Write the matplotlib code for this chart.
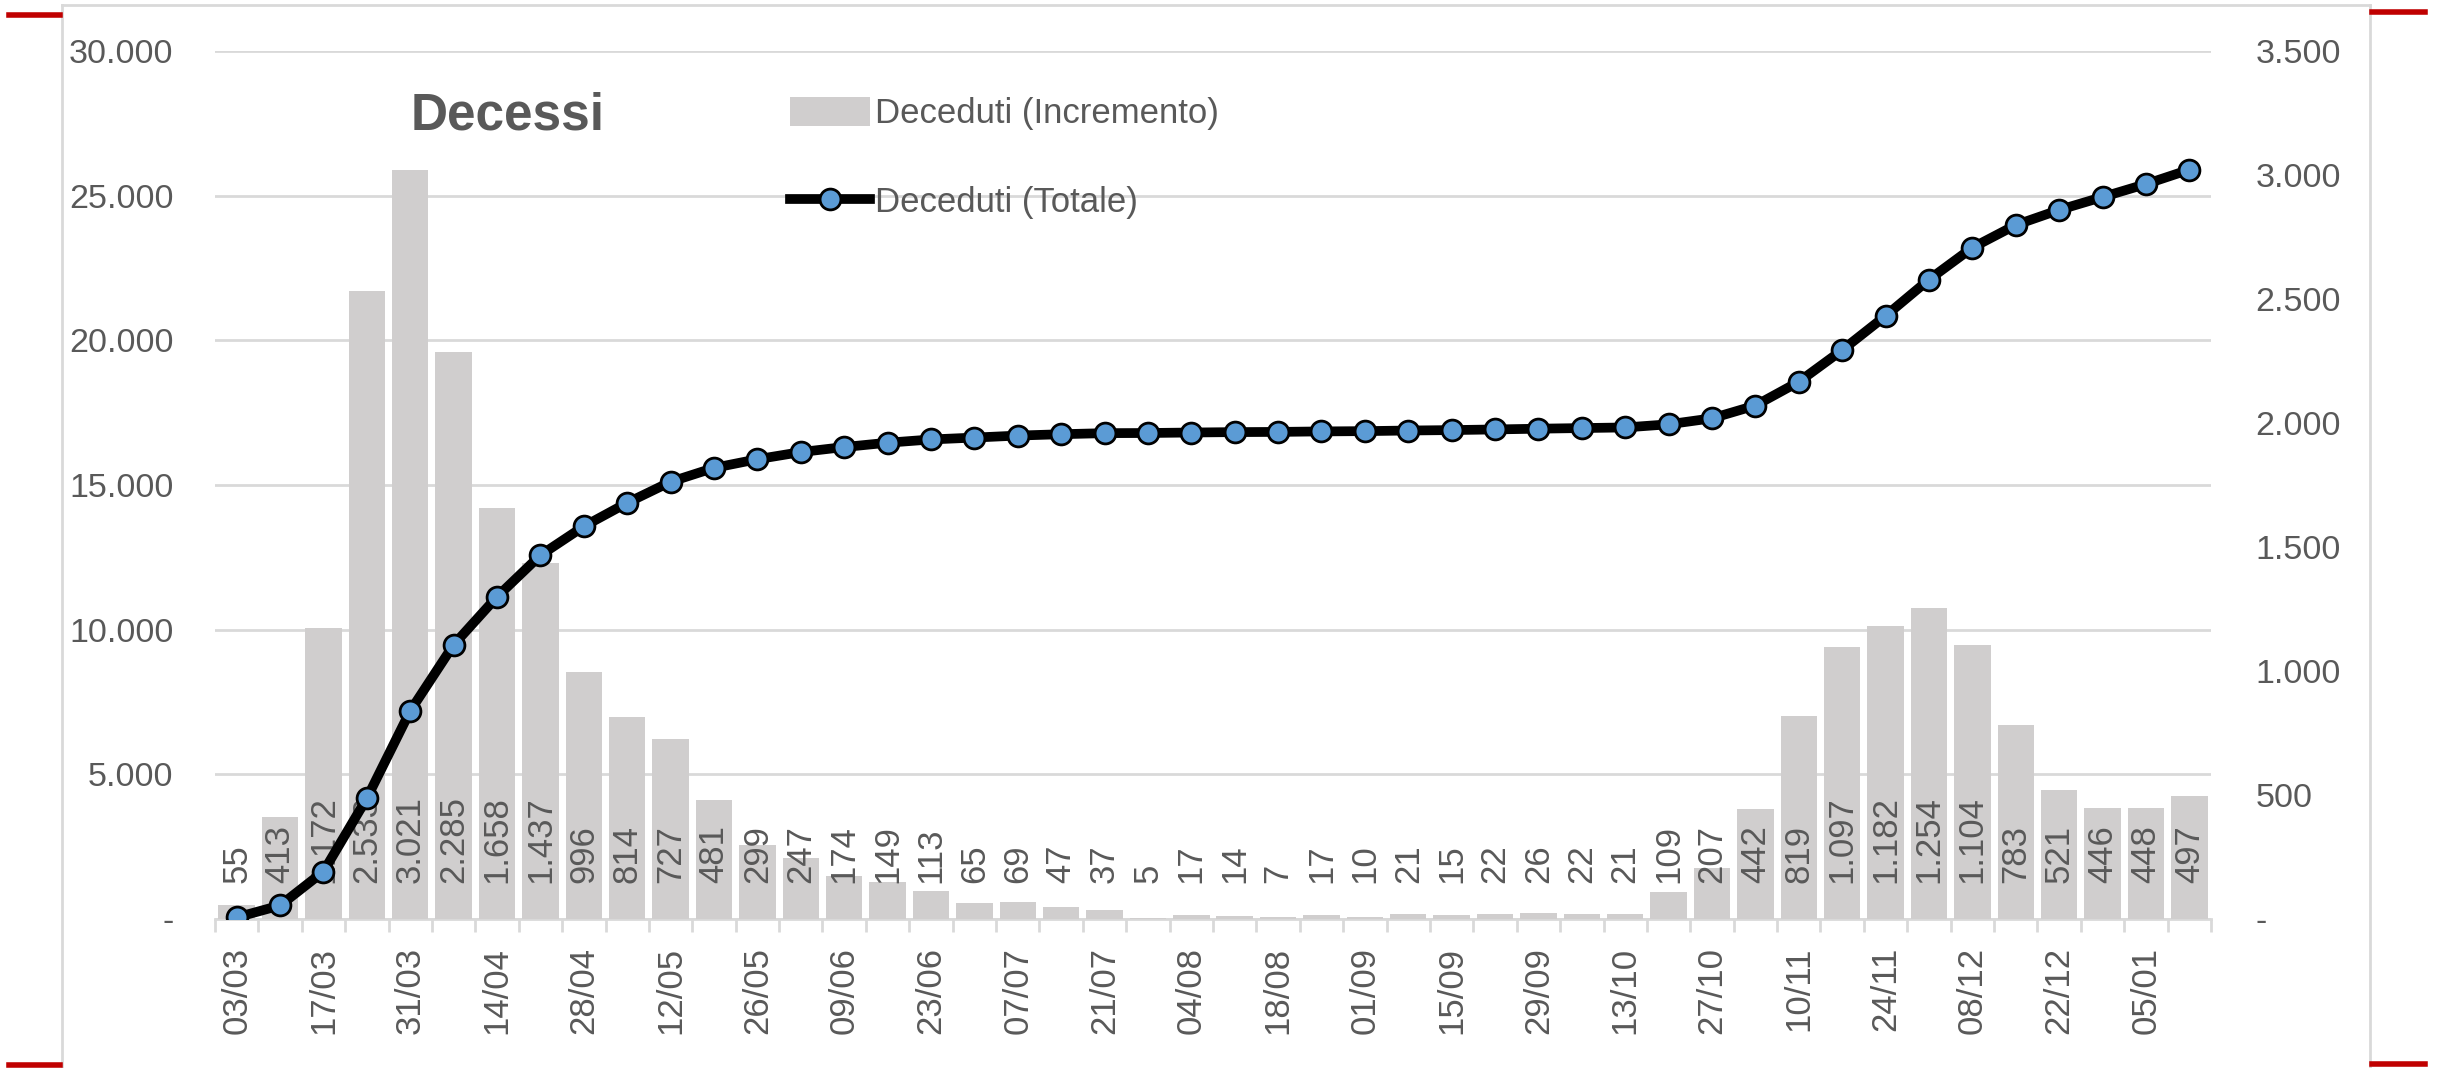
import matplotlib
matplotlib.use('Agg')
import matplotlib.pyplot as plt
from matplotlib.lines import Line2D
from matplotlib.patches import Patch
from matplotlib.ticker import FuncFormatter, FixedLocator

# weekly dates (every other one is shown on the axis)
weeks = ['03/03', '10/03', '17/03', '24/03', '31/03', '07/04', '14/04', '21/04',
         '28/04', '05/05', '12/05', '19/05', '26/05', '02/06', '09/06', '16/06',
         '23/06', '30/06', '07/07', '14/07', '21/07', '28/07', '04/08', '11/08',
         '18/08', '25/08', '01/09', '08/09', '15/09', '22/09', '29/09', '06/10',
         '13/10', '20/10', '27/10', '03/11', '10/11', '17/11', '24/11', '01/12',
         '08/12', '15/12', '22/12', '29/12', '05/01', '12/01']

# weekly increment (bars, right axis)
incremento = [55, 413, 1172, 2533, 3021, 2285, 1658, 1437, 996, 814, 727, 481,
              299, 247, 174, 149, 113, 65, 69, 47, 37, 5, 17, 14, 7, 17, 10, 21,
              15, 22, 26, 22, 21, 109, 207, 442, 819, 1097, 1182, 1254, 1104,
              783, 521, 446, 448, 497]

# running total (line, left axis)
totale = [55, 468, 1640, 4173, 7194, 9479, 11137, 12574, 13570, 14384, 15111,
          15592, 15891, 16138, 16312, 16461, 16574, 16639, 16708, 16755, 16792,
          16797, 16814, 16828, 16835, 16852, 16862, 16883, 16898, 16920, 16946,
          16968, 16989, 17098, 17305, 17747, 18566, 19663, 20845, 22099, 23203,
          23986, 24507, 24953, 25401, 25898]

left_ticks = [0, 5000, 10000, 15000, 20000, 25000, 30000]
right_ticks = [0, 500, 1000, 1500, 2000, 2500, 3000, 3500]

TXT = '#595959'
GRID = '#d9d9d9'
FONT = ['Liberation Sans', 'DejaVu Sans']
plt.rcParams['font.family'] = FONT


def it_fmt(v, pos=None):
    v = int(round(v))
    if v == 0:
        return '-'
    return f'{v:,}'.replace(',', '.')


W, H = 2440, 1068
fig = plt.figure(figsize=(W / 100, H / 100), dpi=100)

ax_left = fig.add_axes([215 / W, 149 / H, (2211 - 215) / W, (919 - 51) / H])
ax_bars = ax_left.twinx()
ax_line = ax_left.twinx()
ax_left.set_zorder(0)
ax_bars.set_zorder(1)
ax_line.set_zorder(2)

x = list(range(len(weeks)))

# gridlines + left axis
ax_left.set_ylim(0, 30000)
ax_left.set_yticks(left_ticks)
ax_left.yaxis.set_major_formatter(FuncFormatter(it_fmt))
ax_left.yaxis.grid(True, color=GRID, lw=2)
ax_left.set_axisbelow(True)
ax_left.tick_params(axis='y', length=0, pad=30, labelsize=24.5, labelcolor=TXT)

# bars on right axis
ax_bars.bar(x, incremento, width=0.84, color='#d0cece', zorder=2)
ax_bars.set_ylim(0, 3500)
ax_bars.set_yticks(right_ticks)
ax_bars.yaxis.set_major_formatter(FuncFormatter(it_fmt))
ax_bars.tick_params(axis='y', length=0, pad=32, labelsize=24.5, labelcolor=TXT)
for xi, v in zip(x, incremento):
    ax_bars.annotate(it_fmt(v), (xi, 0), xytext=(0, 26), textcoords='offset points',
                     rotation=90, ha='center', va='bottom', fontsize=25, color=TXT,
                     zorder=3)

# total line
ax_line.plot(x, totale, color='black', lw=7, marker='o', ms=15,
             mfc='#5b9bd5', mec='black', mew=2, solid_capstyle='round')
ax_line.set_ylim(0, 30000)
ax_line.yaxis.set_visible(False)

# x axis
ax_left.set_xlim(-0.5, len(weeks) - 0.5)
ax_left.xaxis.set_major_locator(FixedLocator(x[::2]))
ax_left.set_xticklabels(weeks[::2], rotation=90)
ax_left.xaxis.set_minor_locator(FixedLocator([i - 0.5 for i in range(len(weeks) + 1)]))
ax_left.tick_params(axis='x', which='major', length=0, pad=20, labelsize=25,
                    labelcolor=TXT)
ax_left.tick_params(axis='x', which='minor', length=9, width=2, color=GRID)

for a in (ax_left, ax_bars, ax_line):
    for s in a.spines.values():
        s.set_visible(False)
ax_left.spines['bottom'].set_visible(True)
ax_left.spines['bottom'].set_color(GRID)
ax_left.spines['bottom'].set_linewidth(2)

# title
fig.text(508 / W, 1 - 116 / H, 'Decessi', fontsize=37, fontweight='bold',
         color=TXT, ha='center', va='center',
         family=['Liberation Sans Narrow', 'Liberation Sans', 'DejaVu Sans'])

# legend
handles = [Patch(facecolor='#d0cece', edgecolor='none'),
           Line2D([], [], color='black', lw=7, marker='o', ms=15,
                  mfc='#5b9bd5', mec='black', mew=2)]
ax_line.legend(handles, ['Deceduti (Incremento)', 'Deceduti (Totale)'],
               loc='upper left', bbox_to_anchor=(790 / W, 1 - 97 / H),
               bbox_transform=fig.transFigure, frameon=False, fontsize=25,
               labelcolor=TXT, handlelength=2.3, handleheight=0.9,
               handletextpad=0.15, labelspacing=1.6, borderpad=0,
               borderaxespad=0)

# slide frame and red corner marks
def fline(x0, y0, x1, y1, **kw):
    fig.add_artist(Line2D([x0 / W, x1 / W], [1 - y0 / H, 1 - y1 / H],
                          transform=fig.transFigure, **kw))

fline(62, 5, 62, H, color=GRID, lw=2)
fline(62, 5, 2370, 5, color=GRID, lw=2)
fline(2370, 5, 2370, H, color=GRID, lw=2)
red = '#c00000'
fline(9, 15, 60, 15, color=red, lw=4)
fline(9, 1065, 60, 1065, color=red, lw=4)
fline(2372, 12, 2425, 12, color=red, lw=4)
fline(2372, 1064, 2425, 1064, color=red, lw=4)

fig.savefig('out.png', dpi=100)
